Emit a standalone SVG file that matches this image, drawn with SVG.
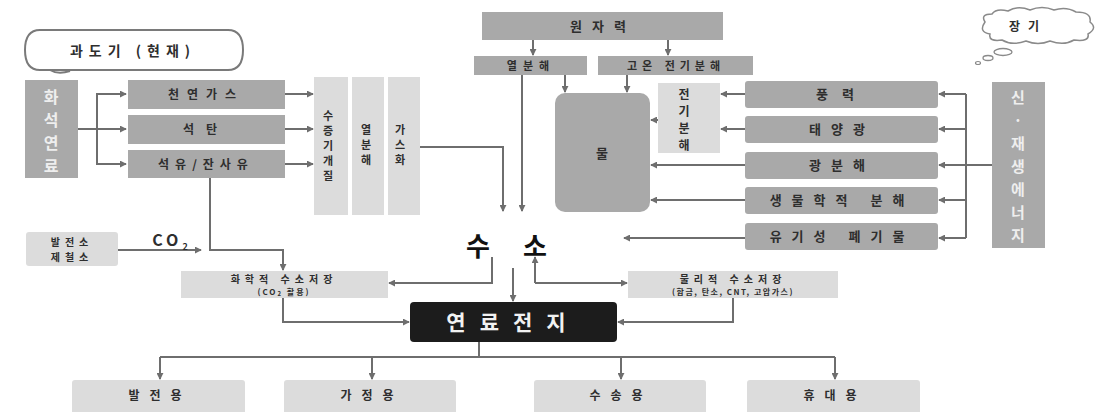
<svg xmlns="http://www.w3.org/2000/svg" width="1101" height="412" viewBox="0 0 1101 412">
<defs>
<marker id="ar" viewBox="0 0 8 8" refX="7" refY="4" markerWidth="7" markerHeight="7" markerUnits="userSpaceOnUse" orient="auto">
<path d="M0,0 L8,4 L0,8 z" fill="#6e6e6e"/>
</marker>
<style>
.mid{fill:#a9a9a9;}
.lt{fill:#dcdcdc;}
.t{font-family:"Noto Sans CJK KR","Noto Sans",sans-serif;font-weight:bold;fill:#2e2e2e;text-anchor:middle;}
.tw{font-family:"Noto Sans CJK KR","Noto Sans",sans-serif;font-weight:bold;fill:#eeeeee;text-anchor:middle;}
.c{fill:none;stroke:#6e6e6e;stroke-width:2;}
.a{marker-end:url(#ar);}
</style>
</defs>
<rect width="1101" height="412" fill="#ffffff"/>

<g id="connectors">
<path class="c a" d="M78,129 H126"/>
<path class="c a" d="M97,129 V94 H126"/>
<path class="c a" d="M97,129 V164 H126"/>
<path class="c a" d="M285,94 H313"/>
<path class="c a" d="M285,129 H313"/>
<path class="c a" d="M285,164 H313"/>
<path class="c a" d="M420,147 H503 V211"/>
<path class="c a" d="M522,75 V211"/>
<path class="c a" d="M533,40 V55"/>
<path class="c a" d="M668,40 V55"/>
<path class="c a" d="M565,75 V92"/>
<path class="c a" d="M627,75 V92"/>
<path class="c a" d="M658,120 H651"/>
<path class="c a" d="M745,94 H721"/>
<path class="c a" d="M745,129 H721"/>
<path class="c a" d="M745,165 H651"/>
<path class="c a" d="M745,200 H651"/>
<path class="c a" d="M745,238 H624"/>
<path class="c" d="M992,165 H966 M966,94 V238"/>
<path class="c a" d="M966,94 H939"/>
<path class="c a" d="M966,129 H939"/>
<path class="c a" d="M966,165 H939"/>
<path class="c a" d="M966,200 H939"/>
<path class="c a" d="M966,238 H939"/>
<path class="c a" d="M118,250 H201"/>
<path class="c a" d="M210,178 V250 H283 V270"/>
<path class="c a" d="M492,257 V283 H389"/>
<path class="c a" d="M513,268 V301"/>
<path class="c a" d="M535,283 V257"/>
<path class="c a" d="M535,283 H627"/>
<path class="c a" d="M283,298 V322 H409"/>
<path class="c a" d="M733,298 V322 H618"/>
<path class="c" d="M479,342 V357 M160,357 H835"/>
<path class="c a" d="M160,357 V379"/>
<path class="c a" d="M372,357 V379"/>
<path class="c a" d="M621,357 V379"/>
<path class="c a" d="M835,357 V379"/>
</g>

<g id="callout-transition">
<path d="M40,30 H228 Q243,30 243,50 Q243,70 228,70 H40 Q25,70 25,50 Q25,30 40,30 z" fill="#ffffff" stroke="#7a7a7a" stroke-width="2"/>
<path d="M50,70 Q58,75 70,71" fill="none" stroke="#7a7a7a" stroke-width="2"/>
<text class="t" x="133" y="56" font-size="14" letter-spacing="6">과도기 (현재)</text>
</g>

<g id="fossil">
<rect class="mid" x="25" y="80" width="53" height="98"/>
<text class="tw" x="51" font-size="16"><tspan x="51" y="103">화</tspan><tspan x="51" y="126">석</tspan><tspan x="51" y="149">연</tspan><tspan x="51" y="172">료</tspan></text>
</g>
<g id="natgas"><rect class="mid" x="128" y="80" width="157" height="29"/><text class="t" x="206" y="99" font-size="12" letter-spacing="8">천연가스</text></g>
<g id="coal"><rect class="mid" x="128" y="115" width="157" height="29"/><text class="t" x="206" y="134" font-size="12" letter-spacing="12">석탄</text></g>
<g id="oil"><rect class="mid" x="128" y="150" width="157" height="28"/><text class="t" x="206" y="169" font-size="12" letter-spacing="6">석유/잔사유</text></g>

<g id="steam"><rect class="lt" x="314" y="77" width="34" height="138"/>
<text class="t" font-size="11"><tspan x="328" y="120">수</tspan><tspan x="328" y="135">증</tspan><tspan x="328" y="150">기</tspan><tspan x="328" y="165">개</tspan><tspan x="328" y="180">질</tspan></text></g>
<g id="pyro"><rect class="lt" x="352" y="77" width="32" height="138"/>
<text class="t" font-size="11"><tspan x="366" y="134">열</tspan><tspan x="366" y="149">분</tspan><tspan x="366" y="164">해</tspan></text></g>
<g id="gasif"><rect class="lt" x="388" y="77" width="32" height="138"/>
<text class="t" font-size="11"><tspan x="400" y="134">가</tspan><tspan x="400" y="149">스</tspan><tspan x="400" y="164">화</tspan></text></g>

<g id="nuclear"><rect class="mid" x="482" y="12" width="241" height="28"/><text class="t" x="603" y="31" font-size="13" letter-spacing="10">원자력</text></g>
<g id="thermo"><rect class="mid" x="474" y="56" width="113" height="19"/><text class="t" x="531" y="70" font-size="11" letter-spacing="6">열분해</text></g>
<g id="htelec"><rect class="mid" x="598" y="56" width="155" height="19"/><text class="t" x="676" y="70" font-size="11" letter-spacing="5">고온 전기분해</text></g>

<g id="water"><rect class="mid" x="555" y="93" width="95" height="119" rx="10"/><text class="t" x="602" y="158" font-size="13">물</text></g>
<g id="electro"><rect class="lt" x="658" y="83" width="62" height="70"/>
<text class="t" font-size="12"><tspan x="684" y="99">전</tspan><tspan x="684" y="116">기</tspan><tspan x="684" y="133">분</tspan><tspan x="684" y="150">해</tspan></text></g>

<g id="wind"><rect class="mid" x="745" y="81" width="193" height="27" rx="3"/><text class="t" x="842" y="99" font-size="13" letter-spacing="14">풍력</text></g>
<g id="solar"><rect class="mid" x="745" y="116" width="193" height="27" rx="3"/><text class="t" x="842" y="134" font-size="13" letter-spacing="10">태양광</text></g>
<g id="photolysis"><rect class="mid" x="745" y="152" width="193" height="27" rx="3"/><text class="t" x="842" y="170" font-size="13" letter-spacing="10">광분해</text></g>
<g id="bio"><rect class="mid" x="745" y="187" width="193" height="27" rx="3"/><text class="t" x="842" y="205" font-size="13" letter-spacing="10">생물학적 분해</text></g>
<g id="waste"><rect class="mid" x="745" y="223" width="193" height="27" rx="3"/><text class="t" x="842" y="241" font-size="13" letter-spacing="10">유기성 폐기물</text></g>

<g id="renewable"><rect class="mid" x="992" y="82" width="53" height="166"/>
<text class="tw" font-size="15"><tspan x="1018" y="103">신</tspan><tspan x="1018" y="126">·</tspan><tspan x="1018" y="149">재</tspan><tspan x="1018" y="172">생</tspan><tspan x="1018" y="195">에</tspan><tspan x="1018" y="218">너</tspan><tspan x="1018" y="241">지</tspan></text></g>

<g id="cloud-longterm">
<path d="M985,22 Q980,14 992,14 Q996,8 1008,11 Q1018,5 1030,10 Q1042,5 1054,10 Q1066,6 1076,12 Q1092,12 1090,22 Q1098,28 1088,34 Q1090,42 1074,40 Q1064,46 1050,41 Q1038,46 1026,41 Q1012,46 1002,40 Q988,42 990,34 Q978,32 985,22 z" fill="#ffffff" stroke="#8a8a8a" stroke-width="1.5"/>
<text class="t" x="1028" y="31" font-size="12" letter-spacing="8">장기</text>
<ellipse cx="1003" cy="52" rx="9" ry="3.5" fill="#ffffff" stroke="#8a8a8a" stroke-width="1.3"/>
<ellipse cx="988" cy="58" rx="5" ry="2.5" fill="#ffffff" stroke="#8a8a8a" stroke-width="1.3"/>
<ellipse cx="978" cy="63" rx="2.5" ry="1.5" fill="#ffffff" stroke="#8a8a8a" stroke-width="1.2"/>
</g>

<g id="plant"><rect class="lt" x="26" y="232" width="92" height="34" rx="3"/>
<text class="t" x="72" y="246" font-size="10" letter-spacing="5">발전소</text>
<text class="t" x="72" y="261" font-size="10" letter-spacing="5">제철소</text></g>
<text class="t" x="172" y="246" font-size="16" font-weight="bold" fill="#333" letter-spacing="4">CO<tspan font-size="9" dy="4">2</tspan></text>

<g id="chem-storage"><rect class="lt" x="181" y="271" width="207" height="27"/>
<text class="t" x="284" y="283" font-size="10" letter-spacing="5">화학적 수소저장</text>
<text class="t" x="284" y="295" font-size="8" letter-spacing="2">(CO<tspan font-size="6" dy="1">2</tspan><tspan dy="-1"> 활용)</tspan></text></g>

<g id="phys-storage"><rect class="lt" x="628" y="271" width="210" height="27"/>
<text class="t" x="733" y="283" font-size="10" letter-spacing="5">물리적 수소저장</text>
<text class="t" x="733" y="295" font-size="8" letter-spacing="1.5">(합금, 탄소, CNT, 고압가스)</text></g>

<g id="hydrogen">
<text x="478" y="256" font-family="'Noto Sans CJK KR',sans-serif" font-weight="bold" font-size="26" fill="#111" text-anchor="middle">수</text>
<text x="535" y="256" font-family="'Noto Sans CJK KR',sans-serif" font-weight="bold" font-size="26" fill="#111" text-anchor="middle">소</text>
</g>

<g id="fuelcell"><rect x="410" y="302" width="207" height="40" rx="4" fill="#1c1c1c"/>
<text x="513" y="330" font-family="'Noto Sans CJK KR',sans-serif" font-weight="bold" font-size="21" fill="#f2f2f2" text-anchor="middle" letter-spacing="14">연료전지</text></g>

<g id="power"><rect class="lt" x="72" y="380" width="173" height="40" rx="3"/><text class="t" x="160" y="400" font-size="12" letter-spacing="10">발전용</text></g>
<g id="home"><rect class="lt" x="284" y="380" width="172" height="40" rx="3"/><text class="t" x="372" y="400" font-size="12" letter-spacing="10">가정용</text></g>
<g id="transport"><rect class="lt" x="534" y="380" width="172" height="40" rx="3"/><text class="t" x="621" y="400" font-size="12" letter-spacing="10">수송용</text></g>
<g id="portable"><rect class="lt" x="747" y="380" width="173" height="40" rx="3"/><text class="t" x="835" y="400" font-size="12" letter-spacing="10">휴대용</text></g>
</svg>
